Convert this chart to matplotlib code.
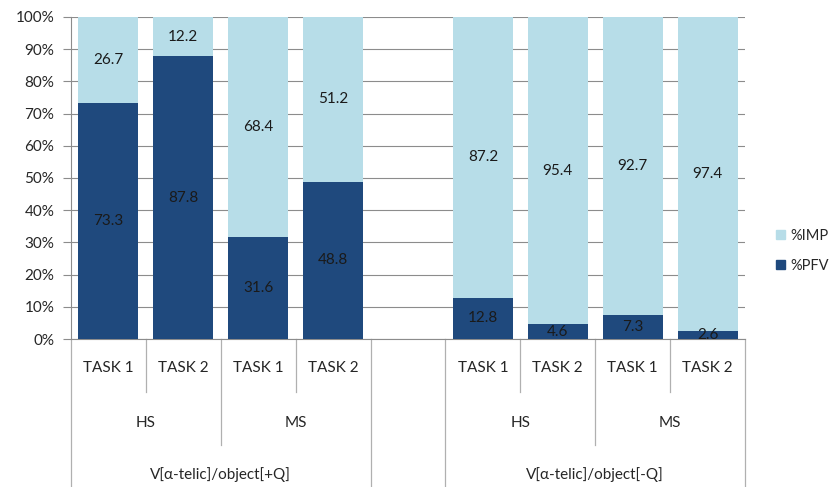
import matplotlib
matplotlib.use('Agg')
import matplotlib.pyplot as plt
from matplotlib.lines import Line2D
from matplotlib.patches import Patch
from matplotlib.ticker import PercentFormatter

# data
tasks = ['TASK 1', 'TASK 2', 'TASK 1', 'TASK 2', 'TASK 1', 'TASK 2', 'TASK 1', 'TASK 2']
schools = ['HS', 'MS', 'HS', 'MS']
groups = ['V[α-telic]/object[+Q]', 'V[α-telic]/object[-Q]']
pfv = [73.3, 87.8, 31.6, 48.8, 12.8, 4.6, 7.3, 2.6]
imp = [26.7, 12.2, 68.4, 51.2, 87.2, 95.4, 92.7, 97.4]

dark = '#1f497d'
light = '#b7dde8'
grid_col = '#8c8c8c'
sep_col = '#b0b0b0'

plt.rcParams['font.family'] = ['Lato', 'DejaVu Sans']

fig = plt.figure(figsize=(8.33, 4.87), dpi=100)
ax = fig.add_axes([0.0852, 0.3039, 0.8092, 0.6612])

# one empty slot between the two groups
xpos = [0, 1, 2, 3, 5, 6, 7, 8]
ax.bar(xpos, pfv, width=0.8, color=dark, zorder=3)
ax.bar(xpos, imp, width=0.8, bottom=pfv, color=light, zorder=3)

for x, p, i in zip(xpos, pfv, imp):
    ax.text(x, p / 2, f'{p}', ha='center', va='center', fontsize=11, color='#1a1a1a', zorder=4)
    ax.text(x, p + i / 2, f'{i}', ha='center', va='center', fontsize=11, color='#1a1a1a', zorder=4)

ax.set_xlim(-0.5, 8.5)
ax.set_ylim(0, 100)
ax.set_yticks(range(0, 101, 10))
ax.yaxis.set_major_formatter(PercentFormatter(decimals=0))
ax.tick_params(axis='y', length=6, color=grid_col, labelsize=11, labelcolor='#262626', pad=6)
ax.set_xticks([])
ax.grid(axis='y', color=grid_col, linewidth=0.8, zorder=0)
for s in ['top', 'right']:
    ax.spines[s].set_visible(False)
ax.spines['left'].set_color(grid_col)
ax.spines['bottom'].set_color(grid_col)

# multi-level category axis
tr = ax.get_xaxis_transform()
for x, t in zip(xpos, tasks):
    ax.text(x, -0.09, t, transform=tr, ha='center', va='center', fontsize=11, color='#262626')
for k, s in enumerate(schools):
    base = xpos[2 * k]
    ax.text(base + 0.5, -0.261, s, transform=tr, ha='center', va='center', fontsize=11, color='#262626')
for k, g in enumerate(groups):
    base = xpos[4 * k]
    ax.text(base + 1.5, -0.422, g, transform=tr, ha='center', va='center', fontsize=11, color='#262626')

def sep(x, y_end):
    ax.add_line(Line2D([x, x], [0, y_end], transform=tr, color=sep_col, linewidth=0.9, clip_on=False))

for base in (0, 5):
    sep(base + 0.5, -0.165)
    sep(base + 2.5, -0.165)
    sep(base + 1.5, -0.329)
for x in (-0.5, 3.5, 4.5, 8.5):
    sep(x, -0.47)

handles = [Patch(color=light, label='%IMP'), Patch(color=dark, label='%PFV')]
fig.legend(handles=handles, loc='center left', bbox_to_anchor=(0.932, 0.485), frameon=False,
           borderpad=0, borderaxespad=0, fontsize=10.5, handlelength=0.6, handleheight=0.6,
           handletextpad=0.35, labelspacing=1.1, labelcolor='#262626')

fig.savefig('out.png', dpi=100)
